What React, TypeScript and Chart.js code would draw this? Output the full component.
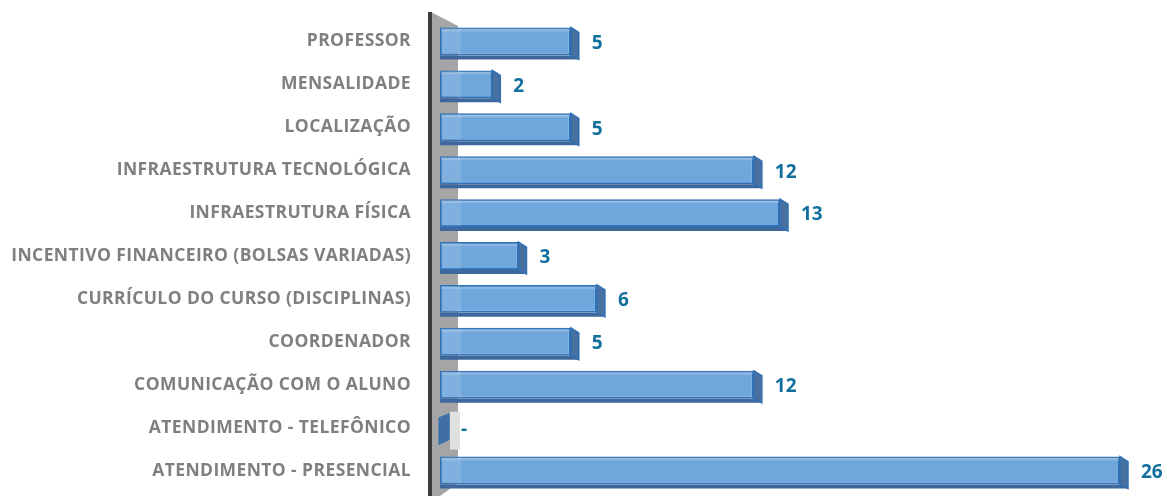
import React, { useEffect, useRef } from "react";
import { Chart, registerables } from "chart.js";

Chart.register(...registerables);

const categories = [
  "PROFESSOR",
  "MENSALIDADE",
  "LOCALIZAÇÃO",
  "INFRAESTRUTURA TECNOLÓGICA",
  "INFRAESTRUTURA FÍSICA",
  "INCENTIVO FINANCEIRO (BOLSAS VARIADAS)",
  "CURRÍCULO DO CURSO (DISCIPLINAS)",
  "COORDENADOR",
  "COMUNICAÇÃO COM O ALUNO",
  "ATENDIMENTO - TELEFÔNICO",
  "ATENDIMENTO - PRESENCIAL",
];
const values = [5, 2, 5, 12, 13, 3, 6, 5, 12, 0, 26];

const DX = 8;
const DY = 4;

const spacingPlugin = {
  id: "spacing",
  beforeDraw(chart: any) {
    chart.ctx.letterSpacing = "0.4px";
  },
  afterDraw(chart: any) {
    chart.ctx.letterSpacing = "0px";
  },
};

const wallPlugin = {
  id: "wall3d",
  beforeDatasetsDraw(chart: any) {
    const { ctx, chartArea, scales } = chart;
    const x0 = scales.x.getPixelForValue(0);
    const top = chartArea.top;
    const bottom = chart.height;
    ctx.save();
    ctx.fillStyle = "#a5a5a5";
    ctx.beginPath();
    ctx.moveTo(x0 - 9, top - 8);
    ctx.lineTo(x0 + 18, top + 6);
    ctx.lineTo(x0 + 18, bottom - 13);
    ctx.lineTo(x0 + 0, bottom);
    ctx.lineTo(x0 - 9, bottom);
    ctx.closePath();
    ctx.fill();
    ctx.fillStyle = "#3c3c3c";
    ctx.fillRect(x0 - 12, top - 8, 4, bottom - top + 8);
    ctx.restore();
  },
};

const barsPlugin = {
  id: "bars3d",
  afterDatasetsDraw(chart: any) {
    const { ctx } = chart;
    const meta = chart.getDatasetMeta(0);
    ctx.save();
    meta.data.forEach((bar: any, i: number) => {
      const v = values[i];
      const xr = bar.x;
      const xl = bar.base;
      const h = bar.height;
      const t = bar.y - h / 2;
      const b = bar.y + h / 2;
      if (v === 0) {
        ctx.fillStyle = "#e0e0e0";
        ctx.fillRect(xl + 10, t - 2, 10, h + 10);
        ctx.fillStyle = "#3f6fa5";
        ctx.strokeStyle = "#2f6fb5";
        ctx.lineWidth = 1;
        ctx.beginPath();
        ctx.moveTo(xl - 1, t + 4);
        ctx.lineTo(xl + 9, t);
        ctx.lineTo(xl + 9, b - 2);
        ctx.lineTo(xl - 1, b + 3);
        ctx.closePath();
        ctx.fill();
        ctx.stroke();
      } else {
        ctx.fillStyle = "rgba(255,255,255,0.12)";
        ctx.fillRect(xl + 1, t + 1, 20, h - 2);
        ctx.fillStyle = "rgba(255,255,255,0.18)";
        ctx.fillRect(xl + 1, t + 1, xr - xl - 2, 3);
        ctx.fillStyle = "#3e679b";
        ctx.beginPath();
        ctx.moveTo(xl, b);
        ctx.lineTo(xr, b);
        ctx.lineTo(xr + DX, b + DY);
        ctx.lineTo(xl, b + DY);
        ctx.closePath();
        ctx.fill();
        ctx.fillStyle = "#48719f";
        ctx.strokeStyle = "#2f6fb5";
        ctx.lineWidth = 1.5;
        ctx.beginPath();
        ctx.moveTo(xr, t);
        ctx.lineTo(xr + DX, t + DY + 1);
        ctx.lineTo(xr + DX, b + DY);
        ctx.lineTo(xr, b);
        ctx.closePath();
        ctx.fill();
        ctx.stroke();
      }
      ctx.letterSpacing = "0px";
      ctx.fillStyle = "#12709f";
      ctx.font = "bold 19px 'Open Sans', sans-serif";
      ctx.textAlign = "left";
      ctx.textBaseline = "middle";
      ctx.fillText(v === 0 ? "-" : String(v), xr + 21, bar.y + 2);
    });
    ctx.restore();
  },
};

export default function App() {
  const ref = useRef<HTMLCanvasElement>(null);
  useEffect(() => {
    if (!ref.current) return;
    const chart = new Chart(ref.current, {
      type: "bar",
      data: {
        labels: categories,
        datasets: [
          {
            data: values,
            backgroundColor: "#6fa6db",
            borderColor: "#2f72b8",
            borderWidth: 2,
            borderSkipped: false,
            categoryPercentage: 1,
            barPercentage: 0.65,
          },
        ],
      },
      options: {
        indexAxis: "y",
        responsive: false,
        animation: false,
        layout: { padding: { top: 20, right: 51, bottom: 4, left: 0 } },
        plugins: { legend: { display: false }, tooltip: { enabled: false } },
        scales: {
          x: { display: false, min: 0, max: 26 },
          y: {
            grid: { display: false, drawTicks: false },
            border: { display: false },
            afterFit(scale: any) {
              scale.width = 440;
              scale.paddingTop = 0;
              scale.paddingBottom = 0;
            },
            ticks: {
              padding: 29,
              color: "#7f7f7f",
              font: { family: "'Open Sans', sans-serif", weight: "bold", size: 17.5 },
            },
          },
        },
      },
      plugins: [spacingPlugin, wallPlugin, barsPlugin],
    });
    return () => chart.destroy();
  }, []);
  return (
    <div style={{ position: "fixed", left: 0, top: 0, width: 1171, height: 496, background: "#fff" }}>
      <canvas ref={ref} width={1171} height={496} />
    </div>
  );
}
